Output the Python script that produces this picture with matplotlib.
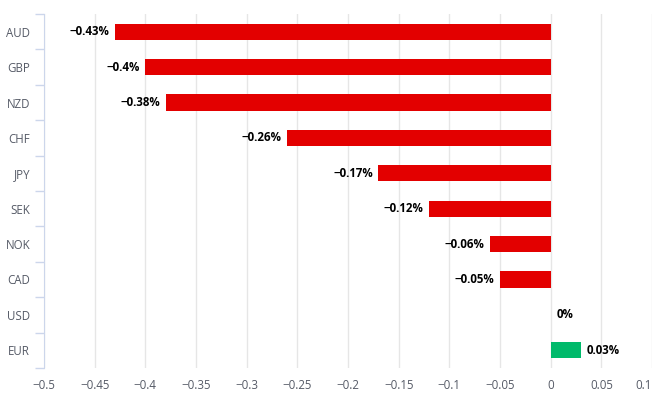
import matplotlib
matplotlib.use("Agg")
import matplotlib.pyplot as plt
from matplotlib.ticker import FuncFormatter
from matplotlib.transforms import ScaledTranslation

currencies = ["AUD", "GBP", "NZD", "CHF", "JPY", "SEK", "NOK", "CAD", "USD", "EUR"]
changes = [-0.43, -0.40, -0.38, -0.26, -0.17, -0.12, -0.06, -0.05, 0.0, 0.03]
x_ticks = [-0.5, -0.45, -0.4, -0.35, -0.3, -0.25, -0.2, -0.15, -0.1, -0.05, 0, 0.05, 0.1]

RED = "#e30000"
GREEN = "#00ba6b"
LABEL_COLOR = "#555a66"

plt.rcParams["font.family"] = ["Open Sans", "DejaVu Sans"]


def fmt_num(v):
    s = f"{v:g}"
    return s.replace("-", "\u2212")


fig = plt.figure(figsize=(6.56, 3.95), dpi=100)
ax = fig.add_axes([44 / 656, 27 / 395, 608 / 656, 354 / 395])

ypos = list(range(len(currencies)))
colors = [GREEN if v > 0 else RED for v in changes]
ax.barh(ypos, changes, height=0.46, color=colors, zorder=3)

for y, v in zip(ypos, changes):
    label = fmt_num(v) + "%"
    if v < 0:
        ax.annotate(label, (v, y), xytext=(-4, 0), textcoords="offset points",
                    ha="right", va="center", fontsize=8.3, fontweight="bold", color="black")
    else:
        ax.annotate(label, (v, y), xytext=(4, 0), textcoords="offset points",
                    ha="left", va="center", fontsize=8.3, fontweight="bold", color="black")

ax.set_xlim(-0.5, 0.1)
ax.set_ylim(len(currencies) - 0.5, -0.5)
ax.set_xticks(x_ticks)
ax.xaxis.set_major_formatter(FuncFormatter(lambda v, p: fmt_num(round(v, 2))))
ax.set_yticks(ypos)
ax.set_yticklabels(currencies)
ax.set_yticks([i - 0.5 for i in range(len(currencies) + 1)], minor=True)

ax.grid(axis="x", color="#e6e6e6", linewidth=1, zorder=0)
ax.tick_params(axis="x", length=0, labelsize=8.3, labelcolor=LABEL_COLOR, pad=8)
ax.tick_params(axis="y", which="major", length=0, labelsize=8.3, labelcolor=LABEL_COLOR, pad=10)
ax.tick_params(axis="y", which="minor", length=6.5, color="#ccd6eb", width=1)

# keep the last x label inside the figure
last = ax.get_xticklabels()[-1]
last.set_transform(last.get_transform() + ScaledTranslation(-8 / 100, 0, fig.dpi_scale_trans))

for side in ["top", "right", "bottom"]:
    ax.spines[side].set_visible(False)
ax.spines["left"].set_color("#ccd6eb")

fig.savefig("out.png", dpi=100)
